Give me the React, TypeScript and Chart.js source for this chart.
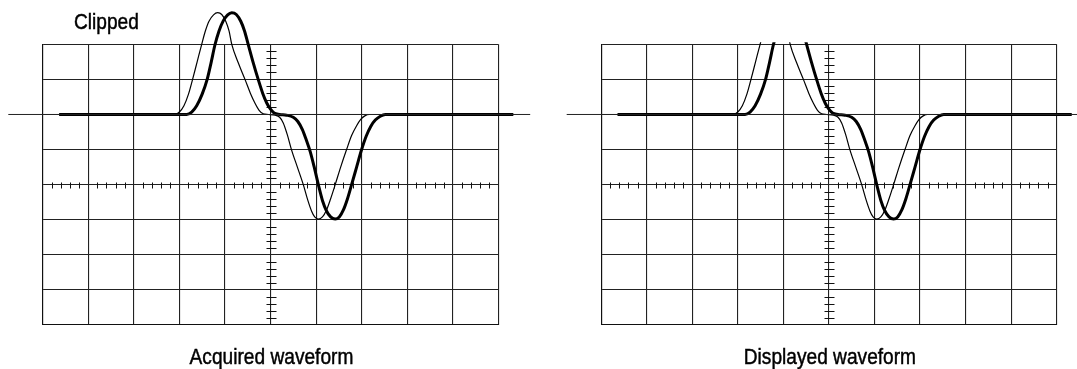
import React, { useEffect, useRef } from 'react';
import { Chart, registerables } from 'chart.js';

Chart.register(...registerables);

// Graticule: 10 x 8 divisions, values in divisions, centre at (5, 0)
const X_MIN = 0;
const X_MAX = 10;
const Y_MIN = -4;
const Y_MAX = 4;
const CENTER_X = 5;
const CENTER_Y = 0;
const MINOR_X_TICKS = [0.2, 0.4, 0.6, 0.8, 1.2, 1.4, 1.6, 1.8, 2.2, 2.4, 2.6, 2.8, 3.2, 3.4, 3.6, 3.8, 4.2, 4.4, 4.6, 4.8, 5.2, 5.4, 5.6, 5.8, 6.2, 6.4, 6.6, 6.8, 7.2, 7.4, 7.6, 7.8, 8.2, 8.4, 8.6, 8.8, 9.2, 9.4, 9.6, 9.8];
const MINOR_Y_TICKS = [-3.8, -3.6, -3.4, -3.2, -2.8, -2.6, -2.4, -2.2, -1.8, -1.6, -1.4, -1.2, -0.8, -0.6, -0.4, -0.2, 0.2, 0.4, 0.6, 0.8, 1.2, 1.4, 1.6, 1.8, 2.2, 2.4, 2.6, 2.8, 3.2, 3.4, 3.6, 3.8];

// Ground / reference level line
const REF_LEVEL = [2, 2];
const REF_X_ACQUIRED = [-0.755, 10.7];
const REF_X_DISPLAYED = [-0.755, 10.5];

// Heavy trace
const THICK_X = [0.36, 3.16, 3.27, 3.38, 3.5, 3.61, 3.7, 3.78, 3.87, 3.96, 4.06, 4.15, 4.25, 4.35, 4.43, 4.51, 4.62, 4.73, 4.83, 4.92, 5.0, 5.08, 5.2, 5.35, 5.5, 5.6, 5.7, 5.8, 5.87, 5.96, 6.05, 6.14, 6.23, 6.32, 6.42, 6.51, 6.6, 6.69, 6.78, 6.89, 7.0, 7.1, 7.2, 7.3, 7.41, 7.52, 10.33];
const THICK_Y = [2, 2, 2.07, 2.25, 2.58, 3.0, 3.5, 3.98, 4.38, 4.66, 4.84, 4.9, 4.85, 4.65, 4.38, 4.0, 3.48, 3.0, 2.6, 2.32, 2.15, 2.04, 2.0, 1.98, 1.92, 1.8, 1.57, 1.22, 0.95, 0.5, 0.0, -0.45, -0.75, -0.92, -0.98, -0.92, -0.72, -0.4, 0.0, 0.5, 1.0, 1.38, 1.66, 1.84, 1.95, 2.0, 2.0];

// Light trace
const THIN_X = [0.36, 2.9, 3.0, 3.1, 3.2, 3.29, 3.39, 3.49, 3.57, 3.65, 3.75, 3.84, 3.93, 4.02, 4.09, 4.15, 4.29, 4.44, 4.56, 4.66, 4.75, 4.84, 4.95, 5.1, 5.2, 5.28, 5.37, 5.46, 5.59, 5.72, 5.82, 5.9, 5.97, 6.05, 6.14, 6.23, 6.32, 6.42, 6.54, 6.67, 6.78, 6.89, 6.98, 7.07, 7.17, 10.33];
const THIN_Y = [2, 2, 2.07, 2.25, 2.58, 3.0, 3.5, 4.0, 4.38, 4.66, 4.84, 4.9, 4.85, 4.65, 4.38, 4.0, 3.48, 3.0, 2.6, 2.32, 2.12, 2.02, 2.0, 1.98, 1.92, 1.76, 1.42, 1.0, 0.5, 0.0, -0.45, -0.75, -0.92, -0.98, -0.92, -0.72, -0.4, 0.0, 0.5, 1.0, 1.4, 1.68, 1.86, 1.96, 2.0, 2.0];

const CAPTION_ACQUIRED = 'Acquired waveform';
const CAPTION_DISPLAYED = 'Displayed waveform';
const NOTE_CLIPPED = 'Clipped';

const FONT = '21.5px "Liberation Sans", Arial, Helvetica, sans-serif';
const TEXT_SCALE_X = 0.89;

const pts = (xs: number[], ys: number[]) => xs.map((x, i) => ({ x, y: ys[i] }));

function drawText(ctx: CanvasRenderingContext2D, text: string, x: number, y: number, align: CanvasTextAlign) {
  ctx.save();
  ctx.translate(x, y);
  ctx.scale(TEXT_SCALE_X, 1);
  ctx.textAlign = align;
  ctx.fillText(text, 0, 0);
  ctx.strokeText(text, 0, 0);
  ctx.restore();
}

const scopePlugin = {
  id: 'scope',
  beforeDatasetsDraw(chart: any) {
    const { ctx, scales } = chart;
    const xs = scales.x;
    const ys = scales.y;
    const cx = Math.round(xs.getPixelForValue(CENTER_X)) + 0.5;
    const cy = Math.round(ys.getPixelForValue(CENTER_Y)) + 0.5;
    ctx.save();
    ctx.strokeStyle = '#111';
    ctx.lineWidth = 1;
    ctx.beginPath();
    MINOR_Y_TICKS.forEach((v) => {
      const py = Math.round(ys.getPixelForValue(v)) + 0.5;
      ctx.moveTo(cx - 5, py);
      ctx.lineTo(cx + 5, py);
    });
    MINOR_X_TICKS.forEach((v) => {
      const px = Math.round(xs.getPixelForValue(v)) + 0.5;
      ctx.moveTo(px, cy - 3);
      ctx.lineTo(px, cy + 3);
    });
    ctx.stroke();
    ctx.restore();
  },
  afterDraw(chart: any, _args: any, opts: any) {
    const { ctx, chartArea } = chart;
    ctx.save();
    ctx.fillStyle = '#000';
    ctx.strokeStyle = '#000';
    ctx.lineWidth = 0.45;
    ctx.font = FONT;
    ctx.textBaseline = 'alphabetic';
    if (opts.caption) {
      drawText(ctx, opts.caption, (chartArea.left + chartArea.right) / 2 + 1, chartArea.bottom + 39.3, 'center');
    }
    if (opts.note) {
      drawText(ctx, opts.note, chartArea.left + 31.3, chartArea.top - 15.3, 'left');
    }
    ctx.restore();
  },
};

type ScopeProps = {
  left: number;
  width: number;
  refX: number[];
  clip: any;
  caption: string;
  note?: string;
  padding: { left: number; right: number; top: number; bottom: number };
};

function Scope({ left, width, refX, clip, caption, note, padding }: ScopeProps) {
  const ref = useRef<HTMLCanvasElement | null>(null);
  useEffect(() => {
    if (!ref.current) return;
    const chart = new Chart(ref.current, {
      type: 'line',
      data: {
        datasets: [
          {
            label: 'reference',
            data: pts(refX, REF_LEVEL),
            borderColor: '#222',
            borderWidth: 1,
            pointRadius: 0,
            clip: false,
          } as any,
          {
            label: 'thin',
            data: pts(THIN_X, THIN_Y),
            borderColor: '#000',
            borderWidth: 1.2,
            pointRadius: 0,
            cubicInterpolationMode: 'monotone',
            clip,
          },
          {
            label: 'thick',
            data: pts(THICK_X, THICK_Y),
            borderColor: '#000',
            borderWidth: 3,
            pointRadius: 0,
            cubicInterpolationMode: 'monotone',
            clip,
          },
        ],
      },
      options: {
        animation: false,
        responsive: false,
        maintainAspectRatio: false,
        events: [],
        layout: { padding },
        plugins: {
          legend: { display: false },
          tooltip: { enabled: false },
          title: { display: false },
          scope: { caption, note },
        } as any,
        scales: {
          x: {
            type: 'linear',
            min: X_MIN,
            max: X_MAX,
            ticks: { display: false, stepSize: 1 },
            grid: { color: '#222', lineWidth: 1.1, drawTicks: false },
            border: { display: true, color: '#111', width: 1.1 },
          },
          y: {
            type: 'linear',
            min: Y_MIN,
            max: Y_MAX,
            ticks: { display: false, stepSize: 1 },
            grid: { color: '#222', lineWidth: 1.1, drawTicks: false },
            border: { display: true, color: '#111', width: 1.1 },
          },
        },
      },
      plugins: [scopePlugin],
    });
    return () => chart.destroy();
  }, []);
  return (
    <canvas
      ref={ref}
      width={width}
      height={369}
      style={{ position: 'absolute', left, top: 0, width, height: 369 }}
    />
  );
}

export default function App() {
  return (
    <div
      style={{
        position: 'absolute',
        left: 0,
        top: 0,
        width: 1077,
        height: 369,
        overflow: 'hidden',
        background: '#fff',
      }}
    >
      <Scope
        left={0}
        width={540}
        refX={REF_X_ACQUIRED}
        clip={false}
        caption={CAPTION_ACQUIRED}
        note={NOTE_CLIPPED}
        padding={{ left: 42.7, right: 41.7, top: 44.3, bottom: 44 }}
      />
      <Scope
        left={540}
        width={537}
        refX={REF_X_DISPLAYED}
        clip={{ left: false, top: 2, right: false, bottom: false }}
        caption={CAPTION_DISPLAYED}
        padding={{ left: 61.1, right: 20.3, top: 44.3, bottom: 44 }}
      />
    </div>
  );
}
